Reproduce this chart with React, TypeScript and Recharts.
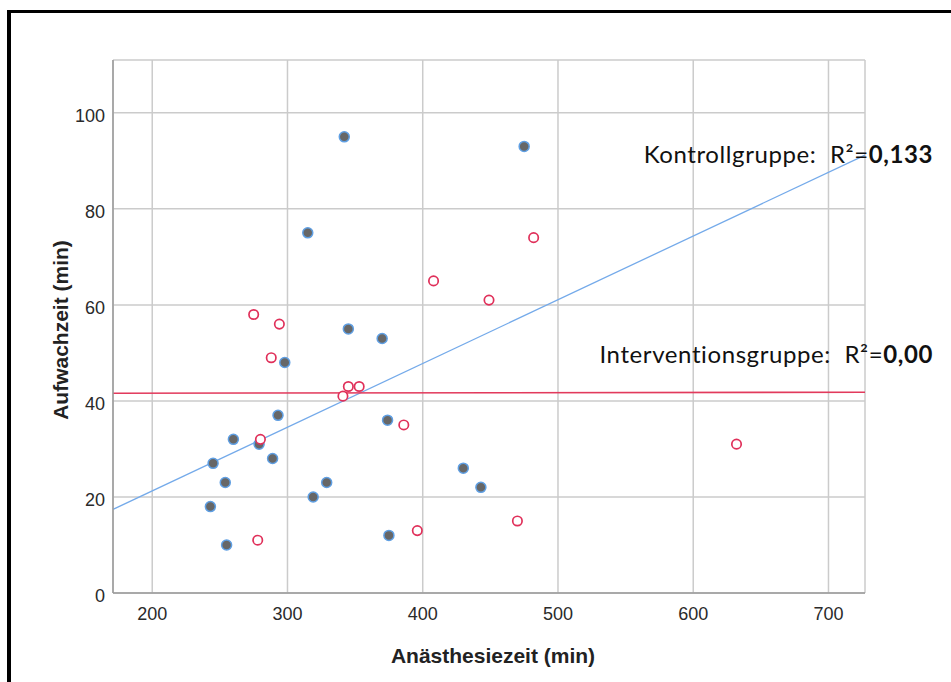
import React from 'react';
import { ScatterChart, Scatter, XAxis, YAxis, CartesianGrid, ReferenceLine } from 'recharts';

// Kontrollgruppe (gefüllte Punkte)
const kontrollZeit = [342, 475, 315, 345, 370, 298, 293, 260, 279, 245, 289, 254, 243, 255, 319, 329, 374, 430, 443, 375];
const kontrollAufwach = [95, 93, 75, 55, 53, 48, 37, 32, 31, 27, 28, 23, 18, 10, 20, 23, 36, 26, 22, 12];

// Interventionsgruppe (offene Kreise)
const interventionZeit = [275, 294, 288, 341, 345, 353, 280, 278, 386, 396, 470, 408, 449, 482, 632];
const interventionAufwach = [58, 56, 49, 41, 43, 43, 32, 11, 35, 13, 15, 65, 61, 74, 31];

// Regressionsgeraden (Endpunkte)
const kontrollFitX = [171, 727];
const kontrollFitY = [17.4, 91.2];
const interventionFitX = [171, 727];
const interventionFitY = [41.6, 41.8];

const xTicks = [200, 300, 400, 500, 600, 700];
const yTicks = [0, 20, 40, 60, 80, 100];

const kontrollData = kontrollZeit.map((x, i) => ({ x, y: kontrollAufwach[i] }));
const interventionData = interventionZeit.map((x, i) => ({ x, y: interventionAufwach[i] }));
const kontrollSegment = kontrollFitX.map((x, i) => ({ x, y: kontrollFitY[i] }));
const interventionSegment = interventionFitX.map((x, i) => ({ x, y: interventionFitY[i] }));

const tickStyle = { fill: '#2a2a2a', fontSize: 18, fontFamily: '"Liberation Sans", Arial, sans-serif' };

const FilledDot = (props: any) => (
  <circle cx={props.cx} cy={props.cy} r={5} fill="#676767" stroke="#5f9fe3" strokeWidth={1.5} />
);

const OpenDot = (props: any) => (
  <circle cx={props.cx} cy={props.cy} r={4.7} fill="#fff" stroke="#e0305a" strokeWidth={1.7} />
);

const annotation: React.CSSProperties = {
  position: 'absolute',
  right: 18,
  fontFamily: 'Lato, "Open Sans", sans-serif',
  fontSize: 24,
  letterSpacing: 0.6,
  lineHeight: '28px',
  color: '#111',
  whiteSpace: 'nowrap',
};

const axisTitle: React.CSSProperties = {
  position: 'absolute',
  fontFamily: '"Liberation Sans", Arial, sans-serif',
  fontWeight: 'bold',
  fontSize: 21,
  color: '#222',
  whiteSpace: 'nowrap',
};

export default function App() {
  return (
    <div style={{ position: 'absolute', left: 0, top: 0, width: 951, height: 682, overflow: 'hidden', background: '#fff' }}>
      <div
        style={{
          position: 'absolute',
          left: 7,
          top: 10,
          width: 960,
          height: 700,
          borderLeft: '4px solid #000',
          borderTop: '3px solid #000',
        }}
      />
      <ScatterChart width={951} height={682} margin={{ top: 60, right: 86, bottom: 59, left: 73 }}>
        <CartesianGrid stroke="#cbcbcb" strokeWidth={1.5} />
        <XAxis
          type="number"
          dataKey="x"
          domain={[171, 727]}
          ticks={xTicks}
          allowDataOverflow
          height={30}
          tickLine={false}
          tickSize={0}
          tickMargin={14}
          axisLine={{ stroke: '#9a9a9a', strokeWidth: 1.5 }}
          tick={tickStyle}
        />
        <YAxis
          type="number"
          dataKey="y"
          domain={[0, 111]}
          ticks={yTicks}
          allowDataOverflow
          width={40}
          tickLine={false}
          tickSize={0}
          tickMargin={8}
          axisLine={{ stroke: '#9a9a9a', strokeWidth: 1.5 }}
          tick={{ ...tickStyle, dy: 3 }}
        />
        <ReferenceLine segment={kontrollSegment} stroke="#74aaea" strokeWidth={1.3} ifOverflow="visible" />
        <ReferenceLine segment={interventionSegment} stroke="#e23a5c" strokeWidth={1.6} ifOverflow="visible" />
        <Scatter data={kontrollData} shape={FilledDot} isAnimationActive={false} />
        <Scatter data={interventionData} shape={OpenDot} isAnimationActive={false} />
      </ScatterChart>

      <div style={{ ...axisTitle, left: 61, top: 330, transform: 'translate(-50%, -50%) rotate(-90deg)' }}>
        Aufwachzeit (min)
      </div>
      <div style={{ ...axisTitle, left: 493, top: 656, transform: 'translate(-50%, -50%)' }}>
        Anästhesiezeit (min)
      </div>

      <div style={{ ...annotation, top: 140 }}>
        Kontrollgruppe:&nbsp; R²=<b>0,133</b>
      </div>
      <div style={{ ...annotation, top: 340 }}>
        Interventionsgruppe:&nbsp; R²=<b>0,00</b>
      </div>
    </div>
  );
}
